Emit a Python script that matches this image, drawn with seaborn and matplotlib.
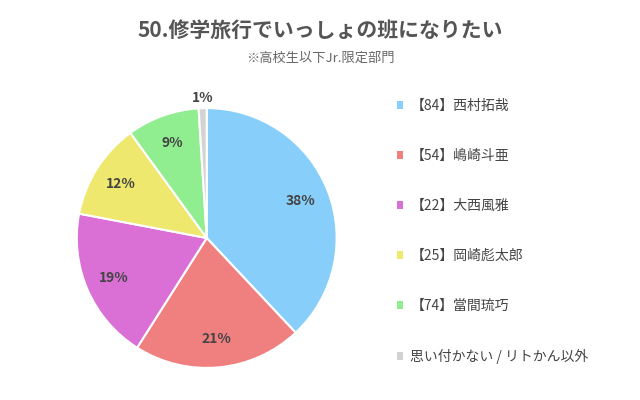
import matplotlib
matplotlib.use("Agg")
import matplotlib.pyplot as plt
import numpy as np
import seaborn as sns
from matplotlib.patches import Patch

sns.set_theme(style="white", font="Noto Sans CJK JP")

labels = ["【84】西村拓哉", "【54】嶋崎斗亜", "【22】大西風雅",
          "【25】岡崎彪太郎", "【74】當間琉巧", "思い付かない / リトかん以外"]
values = [38, 21, 19, 12, 9, 1]
colors = ["#87CEFA", "#F08080", "#DA70D6", "#EEE86E", "#90EE90", "#D3D3D3"]

fig = plt.figure(figsize=(6.4, 4.0), dpi=100)
fig.patch.set_facecolor("white")
ax = fig.add_axes([0.12, 0.08, 0.406, 0.65])

wedges, texts = ax.pie(values, colors=colors, startangle=90, counterclock=False,
                       wedgeprops=dict(edgecolor="white", linewidth=1.5))
for w, v in zip(wedges, values):
    ang = np.deg2rad((w.theta1 + w.theta2) / 2)
    r = 0.78 if v > 5 else 1.08
    ax.text(r * np.cos(ang), r * np.sin(ang), f"{v}%", ha="center", va="center",
            fontsize=10, fontweight="bold", color="#444444")
ax.set_aspect("equal")
ax.set_xlim(-1.0, 1.0)
ax.set_ylim(-1.0, 1.0)
ax.axis("off")

fig.text(0.5, 0.925, "50.修学旅行でいっしょの班になりたい", ha="center", va="center",
         fontsize=15, fontweight="bold", color="#555555")
fig.text(0.5, 0.855, "※高校生以下Jr.限定部門", ha="center", va="center",
         fontsize=9.5, color="#666666")

handles = [Patch(facecolor=c, edgecolor="none") for c in colors]
fig.legend(handles, labels, loc="upper left", bbox_to_anchor=(0.6, 0.785),
           frameon=False, fontsize=10, labelspacing=2.6, handlelength=0.5,
           handleheight=0.5, handletextpad=0.5, labelcolor="#444444")

fig.savefig("out.png", dpi=100)
